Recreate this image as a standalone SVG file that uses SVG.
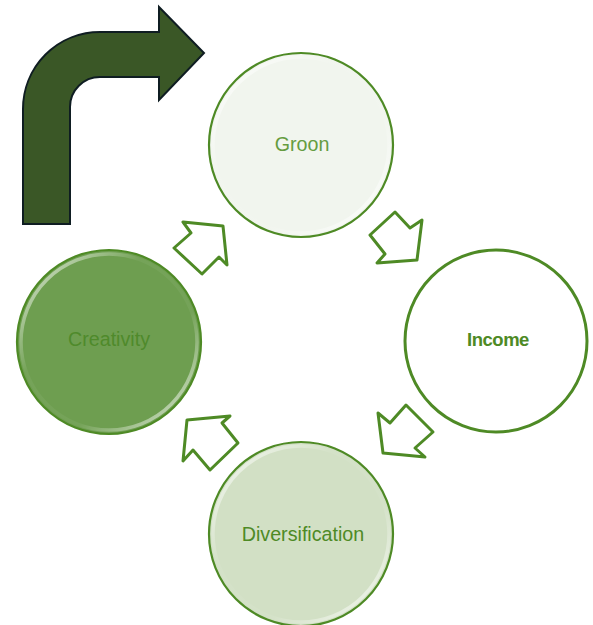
<svg xmlns="http://www.w3.org/2000/svg" width="593" height="625" viewBox="0 0 593 625">
<style>
.node{stroke:#4e8a25;stroke-width:2.2}
.gloss{fill:none;stroke:url(#gl);stroke-width:3.5}
.lbl{font-family:"Liberation Sans",Arial,sans-serif;font-size:19.7px;text-anchor:middle;fill:#4e8a25}
.flow{fill:#fff;stroke:#4e8a25;stroke-width:3;stroke-linejoin:round}
</style>
<defs>
<linearGradient id="gl" x1="0" y1="0" x2="1" y2="1">
<stop offset="0" stop-color="#fff" stop-opacity="0.8"/>
<stop offset="0.35" stop-color="#fff" stop-opacity="0.05"/>
<stop offset="0.65" stop-color="#fff" stop-opacity="0.05"/>
<stop offset="1" stop-color="#fff" stop-opacity="0.8"/>
</linearGradient>
</defs>
<rect width="593" height="625" fill="#fff"/>
<g id="bent-arrow">
<path d="M23,224 L23,109 A77,77 0 0 1 100,32 L159,32 L159,7 L204,53 L159,100 L159,77 L100,77 A30,30 0 0 0 70,107 L70,224 Z" fill="#3a5726" stroke="#0f1d22" stroke-width="2"/>
</g>
<g id="connectors">
<polygon class="flow" points="395,212 410,228 422,220 417,260 377,263 385,254 370,235"/>
<polygon class="flow" points="183,222 223,226 227,265 219,257 202,274 174,248 191,233"/>
<polygon class="flow" points="406,405 433,432 415,448 425,457 383,453 378,413 390,423"/>
<polygon class="flow" points="187,420 230,416 222,423 238,443 210,470 193,450 183,461"/>
</g>
<g id="node-groon">
<circle class="node" cx="301" cy="145" r="92" fill="#f1f5ee"/>
<circle class="gloss" cx="301" cy="145" r="88"/>
<text class="lbl" x="302" y="151" style="fill:#659c40">Groon</text>
</g>
<g id="node-income">
<circle cx="496" cy="341" r="91" fill="#fff" stroke="#4e8a25" stroke-width="3"/>
<text class="lbl" x="498" y="346" font-weight="bold" style="font-size:18.5px;letter-spacing:-0.5px">Income</text>
</g>
<g id="node-creativity">
<circle class="node" cx="109" cy="342" r="92" fill="#6e9e50"/>
<circle class="gloss" cx="109" cy="342" r="88"/>
<text class="lbl" x="109" y="346" style="fill:#4f8a2b">Creativity</text>
</g>
<g id="node-diversification">
<circle class="node" cx="301" cy="534" r="92" fill="#d2e0c5"/>
<circle class="gloss" cx="301" cy="534" r="88"/>
<text class="lbl" x="303" y="541">Diversification</text>
</g>
</svg>
